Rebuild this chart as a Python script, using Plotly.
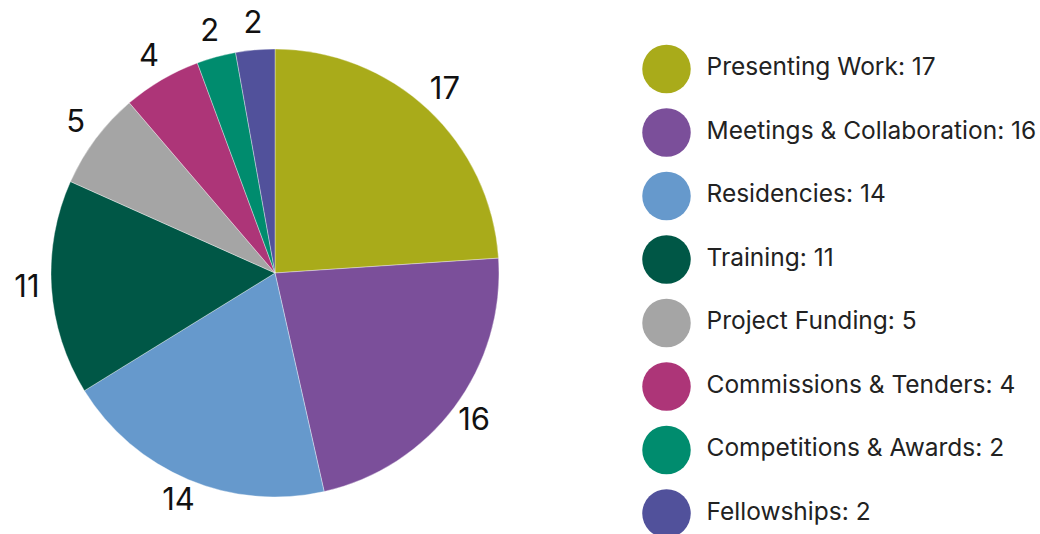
import numpy as np
import plotly.graph_objects as go

categories = ["Presenting Work", "Meetings & Collaboration", "Residencies", "Training",
              "Project Funding", "Commissions & Tenders", "Competitions & Awards", "Fellowships"]
values = [17, 16, 14, 11, 5, 4, 2, 2]
colors = ["#A9AB1A", "#7B4F9A", "#6699CC", "#005746", "#A5A5A5", "#AD3578", "#008C6E", "#51519B"]

legend_labels = [f"{c}: {v}" for c, v in zip(categories, values)]
idx = list(range(len(categories)))

FONT = "Inter, Roboto, sans-serif"
W, H = 1040, 534
CX, CY, R = 275, 273, 224  # pie centre (px from top-left) and radius
pie_x = [(CX - R) / W, (CX + R) / W]
pie_y = [(H - CY - R) / H, (H - CY + R) / H]

# label positions from data: mid-angle of each slice, clockwise from 12 o'clock
vals = np.array(values, dtype=float)
cum = np.cumsum(vals)
mid = (cum - vals / 2) / vals.sum() * 2 * np.pi
LABEL_R = 1.11
lab_x = LABEL_R * np.sin(mid)
lab_y = LABEL_R * np.cos(mid)

# overlay axes in units of pie radius, covering the left part of the figure
ov_w = 560
fig = go.Figure()
fig.add_trace(go.Pie(
    labels=categories, values=values, sort=False, direction="clockwise", rotation=0,
    marker=dict(colors=colors, line=dict(color="rgba(255,255,255,0.6)", width=0.6)),
    textinfo="none", automargin=False,
    domain=dict(x=pie_x, y=pie_y),
    showlegend=False, hoverinfo="label+value",
))
fig.add_trace(go.Scatter(
    x=lab_x, y=lab_y, mode="text", text=[str(v) for v in values], textposition="middle center",
    xaxis="x2", yaxis="y2", cliponaxis=False,
    textfont=dict(size=31, color="#111111", family=FONT),
    showlegend=False, hoverinfo="skip",
))
fig.add_trace(go.Scatter(
    x=[0] * len(idx), y=idx, mode="markers", xaxis="x", yaxis="y",
    marker=dict(size=48.5, color=colors, line=dict(width=0)),
    showlegend=False, hoverinfo="skip",
))
fig.add_trace(go.Scatter(
    x=[40] * len(idx), y=idx, mode="text", text=legend_labels, textposition="middle right",
    textfont=dict(size=24.5, color="#222222", family=FONT), cliponaxis=False,
    showlegend=False, hoverinfo="skip",
))

fig.update_layout(
    width=W, height=H,
    margin=dict(l=0, r=0, t=0, b=0, autoexpand=False),
    paper_bgcolor="white", plot_bgcolor="rgba(0,0,0,0)",
    xaxis=dict(domain=[0, 1], range=[-666.5, W - 666.5], visible=False, fixedrange=True),
    yaxis=dict(domain=[0, 1], range=[(H - 69) / 63.5, -69 / 63.5], visible=False, fixedrange=True),
    xaxis2=dict(domain=[0, ov_w / W], range=[-CX / R, (ov_w - CX) / R], visible=False,
                fixedrange=True, anchor="y2"),
    yaxis2=dict(domain=[0, 1], range=[(CY - H) / R, CY / R], visible=False,
                fixedrange=True, anchor="x2"),
)

fig.write_html("out.html", config={"displayModeBar": False},
               post_script="document.body.style.margin='0';")
